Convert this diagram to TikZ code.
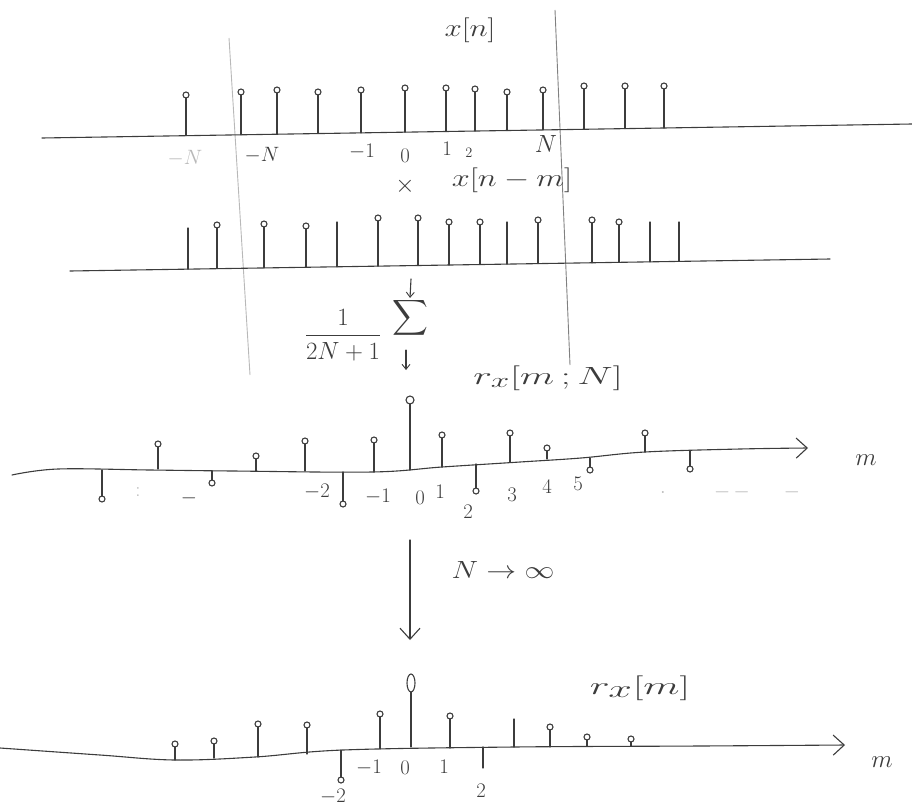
\documentclass[tikz,border=0pt]{standalone}
\usepackage{amsmath}
\usetikzlibrary{arrows.meta}
\definecolor{pencil}{HTML}{3C3C3C}
\definecolor{faint}{HTML}{B8B8B8}
\begin{document}
\begin{tikzpicture}[x=1pt,y=-1pt,
  pen/.style={draw=pencil,line width=1.1pt,line cap=round},
  stemline/.style={pen},
  guide/.style={draw=faint,line width=0.9pt},
  lbl/.style={text=pencil,inner sep=0pt,font=\fontsize{30}{34}\selectfont},
  tick/.style={text=pencil,inner sep=0pt,font=\fontsize{21}{24}\selectfont},
  barb/.style={-{Straight Barb[length=11pt,width=20pt,line width=1.1pt]}},
  sbarb/.style={-{Straight Barb[length=5pt,width=8pt,line width=0.9pt]}}]
\useasboundingbox (0,0) rectangle (912,808);
% guide lines
\draw[guide] (229,38) -- (250,375);
\draw[guide,draw=gray] (555,10) -- (570,365);
% ---- row 1: x[n]
\draw[pen] (42,138) -- (912,124);
\foreach \x/\t in {186/95,241/92,277/90,318/92,361/90,405/88,446/88,475/89,507/92,543/90,584/86,625/86,664/86}{
  \pgfmathsetmacro\b{138-(\x-42)*0.01609}
  \draw[stemline] (\x,\b) -- (\x,\t+3);
  \draw[stemline] (\x,\t) circle (3);
}
\node[lbl,xscale=1.25] (xn) at (470,30) {$x[n]$};
\node[tick,text=faint] (mNf) at (185,158) {$-N$};
\node[tick] (mN) at (262,155) {$-N$};
\node[tick] (m1) at (362,152) {$-1$};
\node[tick] (z0) at (405,156) {$0$};
\node[tick] (p1) at (447,149) {$1$};
\node[tick,font=\fontsize{14}{16}\selectfont] (p2) at (469,153) {$2$};
\node[tick,font=\fontsize{24}{28}\selectfont] (pN) at (546,144) {$N$};
\node[lbl] (times) at (405,186) {$\times$};
\node[lbl,xscale=1.3] (xnm) at (512,180) {$x[n-m]$};
% ---- row 2: x[n-m]
\draw[pen] (70,271) -- (830,259);
\foreach \x/\t/\h in {188/228/0,217/225/1,264/224/1,306/226/1,337/222/0,378/218/1,418/218/1,449/222/1,480/222/1,507/222/0,538/220/1,592/220/1,619/222/1,650/222/0,679/222/0}{
  \pgfmathsetmacro\b{271-(\x-70)*0.01579}
  \ifnum\h=1
    \draw[stemline] (\x,\b) -- (\x,\t+3);
    \draw[stemline] (\x,\t) circle (3);
  \else
    \draw[stemline] (\x,\b) -- (\x,\t);
  \fi
}
% ---- averaging
\node[lbl,font=\fontsize{24}{28}\selectfont] (frac) at (343,335) {$\dfrac{1}{2N+1}$};
\node[text=pencil,inner sep=0pt,font=\fontsize{34}{40}\selectfont] (sum) at (410,318) {$\displaystyle\sum$};
\coordinate (sumin) at (411,279);
\coordinate (sumout) at (406,370);
\draw[pen,sbarb] (sumin) -- (sum.north);
\draw[pen,sbarb] (sum.south) ++(-4,12) coordinate (sumo1) (sumo1) -- (sumout);
% ---- row 3: r_x[m;N]
\node[lbl,font=\fontsize{32}{36}\selectfont,xscale=1.6] (rmN) at (548,378) {$r_x[m\,;N]$};
\draw[pen,barb] plot[smooth,tension=0.6] coordinates {(12,475) (58,469) (150,470) (233,471) (372,472) (442,467) (520,462) (581,458) (645,452) (740,449) (808,448)};
\node[lbl] (mlab1) at (866,460) {$m$};
\foreach \x/\b/\t in {158/469/444,256/471/456,305/471/441,374/472/440,442/467/435,510/462/433,547/459/448,645/452/433}{
  \draw[stemline] (\x,\b) -- (\x,\t+3);
  \draw[stemline] (\x,\t) circle (3);
}
\draw[stemline] (410,470) -- (410,404);
\draw[stemline] (410,400) circle (4);
\foreach \x/\b/\t in {102/470/499,212/471/483,343/472/504,476/464/491,590/458/470,690/451/469}{
  \draw[stemline] (\x,\b) -- (\x,\t-3);
  \draw[stemline] (\x,\t) circle (3);
}
\node[tick] (a1) at (317,492) {$-2$};
\node[tick] (a2) at (378,497) {$-1$};
\node[tick] (a3) at (420,498) {$0$};
\node[tick] (a4) at (440,492) {$1$};
\node[tick] (a5) at (468,512) {$2$};
\node[tick] (a6) at (512,495) {$3$};
\node[tick] (a7) at (547,487) {$4$};
\node[tick] (a8) at (578,484) {$5$};
\node[tick,text=faint] (d1) at (138,492) {$:$};
\node[tick] (d2) at (189,498) {$-$};
\node[tick,text=faint] (d3) at (663,492) {$.$};
\node[tick,text=faint] (d4) at (732,492) {$-\,-$};
\node[tick,text=faint] (d5) at (792,492) {$-$};
% ---- limit arrow
\coordinate (limtop) at (410,540);
\coordinate (limbot) at (410,640);
\draw[pen,barb] (limtop) -- (limbot);
\node[lbl,xscale=1.2] (lim) at (503,570) {$N\rightarrow\infty$};
% ---- row 4: r_x[m]
\node[lbl,font=\fontsize{36}{40}\selectfont,xscale=1.7] (rm) at (640,688) {$r_x[m]$};
\draw[pen,barb] plot[smooth,tension=0.6] coordinates {(0,748) (100,755) (175,760) (255,757) (343,750) (514,747) (700,746) (845,745)};
\node[lbl] (mlab2) at (882,762) {$m$};
\foreach \x/\b/\t in {175/760/744,214/758/741,258/757/724,307/754/725,380/749/714,450/748/716,550/747/727,587/746/737,631/746/739}{
  \draw[stemline] (\x,\b) -- (\x,\t+3);
  \draw[stemline] (\x,\t) circle (3);
}
\draw[stemline] (514,747) -- (514,719);
\draw[stemline] (411,747) -- (411,692);
\draw[stemline] (411,683) ellipse (4 and 9);
\draw[stemline] (341,750) -- (341,777);
\draw[stemline] (341,780) circle (3);
\draw[stemline] (483,747) -- (483,768);
\node[tick] (b1) at (333,797) {$-2$};
\node[tick] (b2) at (369,768) {$-1$};
\node[tick] (b3) at (405,768) {$0$};
\node[tick] (b4) at (444,767) {$1$};
\node[tick] (b5) at (481,791) {$2$};
\end{tikzpicture}
\end{document}
